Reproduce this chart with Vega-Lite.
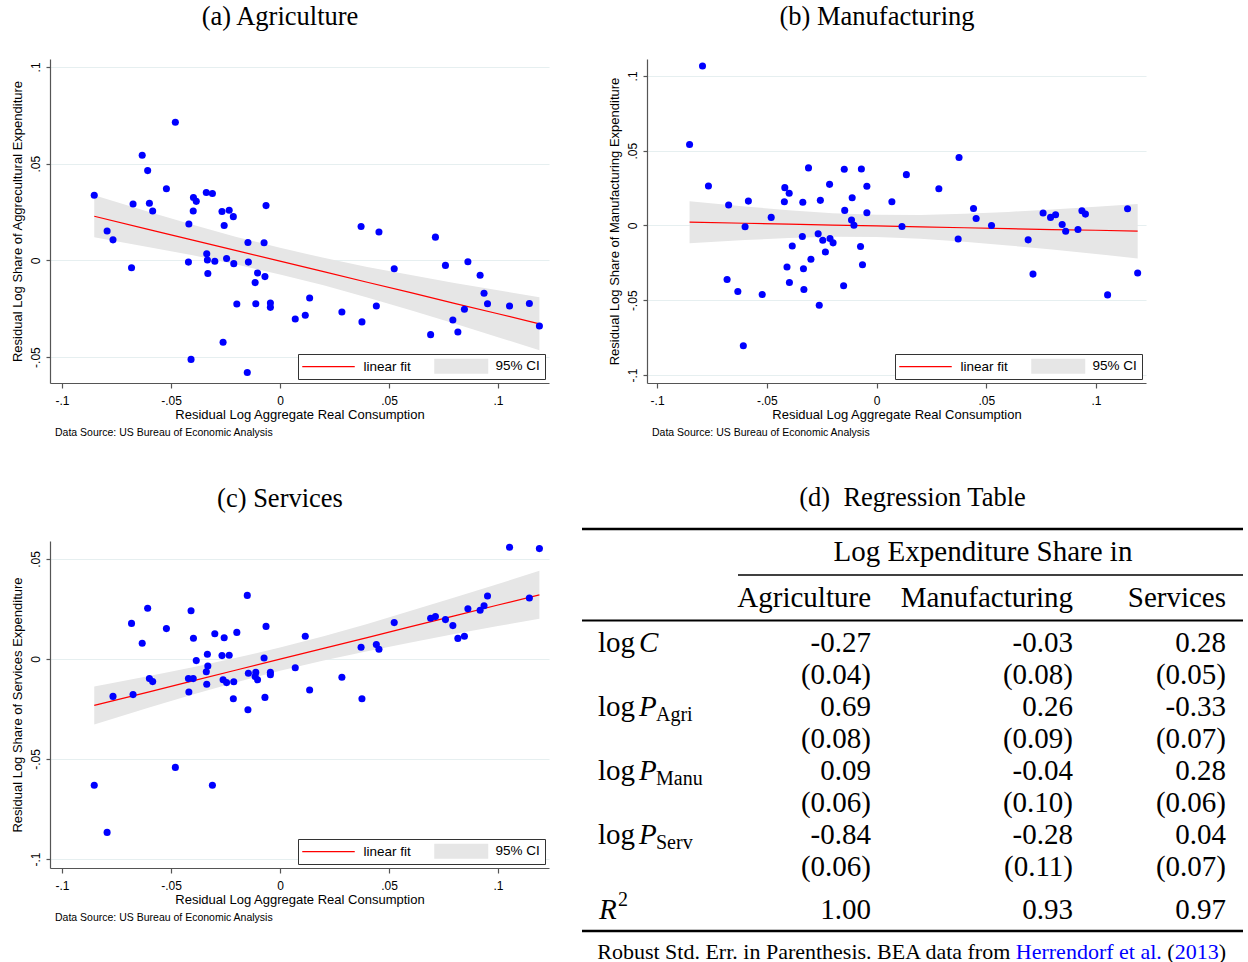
{
  "$schema": "https://vega.github.io/schema/vega-lite/v6.json",
  "background": "white",
  "padding": {"left": 11, "top": 3, "right": 0, "bottom": 0},
  "datasets": {
    "points": [
      {"x": -0.0852, "agr": 0.0337, "man": 0.0542, "ser": -0.0631},
      {"x": -0.0793, "agr": 0.0152, "man": 0.1066, "ser": -0.0867},
      {"x": -0.0766, "agr": 0.0106, "man": 0.0264, "ser": -0.0187},
      {"x": -0.0681, "agr": -0.0038, "man": -0.0361, "ser": 0.0178},
      {"x": -0.0674, "agr": 0.0291, "man": 0.0137, "ser": -0.0178},
      {"x": -0.0632, "agr": 0.0543, "man": -0.0441, "ser": 0.0079},
      {"x": -0.0607, "agr": 0.0464, "man": -0.0804, "ser": 0.0254},
      {"x": -0.0599, "agr": 0.0295, "man": -0.0009, "ser": -0.0098},
      {"x": -0.0584, "agr": 0.0255, "man": 0.0163, "ser": -0.0113},
      {"x": -0.0521, "agr": 0.0370, "man": -0.0461, "ser": 0.0152},
      {"x": -0.0480, "agr": 0.0714, "man": 0.0054, "ser": -0.0542},
      {"x": -0.0420, "agr": -0.0009, "man": 0.0159, "ser": -0.0098},
      {"x": -0.0418, "agr": 0.0188, "man": 0.0253, "ser": -0.0165},
      {"x": -0.0408, "agr": -0.0512, "man": -0.0278, "ser": 0.0241},
      {"x": -0.0398, "agr": 0.0255, "man": 0.0215, "ser": -0.0098},
      {"x": -0.0397, "agr": 0.0325, "man": -0.0381, "ser": 0.0104},
      {"x": -0.0384, "agr": 0.0305, "man": -0.0137, "ser": -0.0008},
      {"x": -0.0338, "agr": 0.0351, "man": -0.0074, "ser": -0.0064},
      {"x": -0.0336, "agr": 0.0034, "man": 0.0155, "ser": -0.0126},
      {"x": -0.0333, "agr": 0.0002, "man": -0.0289, "ser": 0.0024},
      {"x": -0.0331, "agr": -0.0068, "man": -0.0428, "ser": -0.0035},
      {"x": -0.0310, "agr": 0.0346, "man": 0.0385, "ser": -0.0631},
      {"x": -0.0299, "agr": -0.0005, "man": -0.0226, "ser": 0.0126},
      {"x": -0.0266, "agr": 0.0253, "man": -0.0056, "ser": 0.0017},
      {"x": -0.0261, "agr": -0.0423, "man": -0.0533, "ser": -0.0104},
      {"x": -0.0256, "agr": 0.0180, "man": 0.0168, "ser": 0.0106},
      {"x": -0.0245, "agr": 0.0010, "man": -0.0099, "ser": -0.0118},
      {"x": -0.0233, "agr": 0.0259, "man": -0.0177, "ser": 0.0019},
      {"x": -0.0214, "agr": 0.0226, "man": 0.0275, "ser": -0.0199},
      {"x": -0.0212, "agr": -0.0017, "man": -0.0087, "ser": -0.0114},
      {"x": -0.0198, "agr": -0.0226, "man": -0.0116, "ser": 0.0133},
      {"x": -0.0150, "agr": -0.0580, "man": -0.0403, "ser": 0.0318},
      {"x": -0.0147, "agr": 0.0092, "man": 0.0376, "ser": -0.0254},
      {"x": -0.0145, "agr": -0.0009, "man": 0.0101, "ser": -0.0071},
      {"x": -0.0114, "agr": -0.0115, "man": 0.0036, "ser": -0.0088},
      {"x": -0.0111, "agr": -0.0224, "man": 0.0186, "ser": -0.0067},
      {"x": -0.0103, "agr": -0.0065, "man": 0.0002, "ser": -0.0104},
      {"x": -0.0073, "agr": 0.0091, "man": -0.0141, "ser": 0.0005},
      {"x": -0.0069, "agr": -0.0084, "man": 0.0378, "ser": -0.0192},
      {"x": -0.0064, "agr": 0.0283, "man": -0.0262, "ser": 0.0163},
      {"x": -0.0044, "agr": -0.0221, "man": 0.0262, "ser": -0.0079},
      {"x": -0.0044, "agr": -0.0243, "man": 0.0085, "ser": -0.0066},
      {"x": 0.0070, "agr": -0.0303, "man": 0.0159, "ser": -0.0044},
      {"x": 0.0116, "agr": -0.0284, "man": -0.0007, "ser": 0.0114},
      {"x": 0.0136, "agr": -0.0195, "man": 0.0340, "ser": -0.0155},
      {"x": 0.0284, "agr": -0.0267, "man": 0.0246, "ser": -0.0091},
      {"x": 0.0372, "agr": 0.0175, "man": -0.0090, "ser": 0.0059},
      {"x": 0.0376, "agr": -0.0318, "man": 0.0455, "ser": -0.0199},
      {"x": 0.0442, "agr": -0.0236, "man": 0.0114, "ser": 0.0072},
      {"x": 0.0454, "agr": 0.0147, "man": 0.0047, "ser": 0.0049},
      {"x": 0.0524, "agr": -0.0043, "man": 0.0000, "ser": 0.0182},
      {"x": 0.0691, "agr": -0.0384, "man": -0.0096, "ser": 0.0204},
      {"x": 0.0713, "agr": 0.0120, "man": -0.0325, "ser": 0.0212},
      {"x": 0.0759, "agr": -0.0026, "man": 0.0083, "ser": 0.0197},
      {"x": 0.0793, "agr": -0.0308, "man": 0.0054, "ser": 0.0167},
      {"x": 0.0816, "agr": -0.0370, "man": 0.0072, "ser": 0.0103},
      {"x": 0.0846, "agr": -0.0253, "man": 0.0007, "ser": 0.0114},
      {"x": 0.0862, "agr": -0.0007, "man": -0.0038, "ser": 0.0251},
      {"x": 0.0918, "agr": -0.0077, "man": -0.0027, "ser": 0.0244},
      {"x": 0.0936, "agr": -0.0170, "man": 0.0099, "ser": 0.0266},
      {"x": 0.0952, "agr": -0.0224, "man": 0.0076, "ser": 0.0315},
      {"x": 0.1053, "agr": -0.0236, "man": -0.0464, "ser": 0.0559},
      {"x": 0.1144, "agr": -0.0223, "man": 0.0112, "ser": 0.0305},
      {"x": 0.1190, "agr": -0.0339, "man": -0.0318, "ser": 0.0552}
    ],
    "fits": [
      {"p": "a", "x": -0.0852, "fit": 0.0228, "lo": 0.0119, "hi": 0.0337},
      {"p": "a", "x": -0.06, "fit": 0.0159, "lo": 0.0068, "hi": 0.0250},
      {"p": "a", "x": -0.04, "fit": 0.0105, "lo": 0.0026, "hi": 0.0184},
      {"p": "a", "x": -0.02, "fit": 0.0050, "lo": -0.0021, "hi": 0.0121},
      {"p": "a", "x": 0.0, "fit": -0.0004, "lo": -0.0073, "hi": 0.0065},
      {"p": "a", "x": 0.02, "fit": -0.0058, "lo": -0.0129, "hi": 0.0013},
      {"p": "a", "x": 0.04, "fit": -0.0113, "lo": -0.0192, "hi": -0.0034},
      {"p": "a", "x": 0.06, "fit": -0.0167, "lo": -0.0258, "hi": -0.0076},
      {"p": "a", "x": 0.08, "fit": -0.0222, "lo": -0.0327, "hi": -0.0117},
      {"p": "a", "x": 0.1, "fit": -0.0276, "lo": -0.0397, "hi": -0.0155},
      {"p": "a", "x": 0.119, "fit": -0.0328, "lo": -0.0465, "hi": -0.0191},
      {"p": "b", "x": -0.0852, "fit": 0.0022, "lo": -0.0118, "hi": 0.0162},
      {"p": "b", "x": -0.06, "fit": 0.0015, "lo": -0.0097, "hi": 0.0127},
      {"p": "b", "x": -0.04, "fit": 0.0009, "lo": -0.0084, "hi": 0.0102},
      {"p": "b", "x": -0.02, "fit": 0.0003, "lo": -0.0076, "hi": 0.0082},
      {"p": "b", "x": 0.0, "fit": -0.0003, "lo": -0.0077, "hi": 0.0071},
      {"p": "b", "x": 0.02, "fit": -0.0009, "lo": -0.0088, "hi": 0.0070},
      {"p": "b", "x": 0.04, "fit": -0.0015, "lo": -0.0108, "hi": 0.0078},
      {"p": "b", "x": 0.06, "fit": -0.0021, "lo": -0.0133, "hi": 0.0091},
      {"p": "b", "x": 0.08, "fit": -0.0027, "lo": -0.0161, "hi": 0.0107},
      {"p": "b", "x": 0.1, "fit": -0.0032, "lo": -0.0190, "hi": 0.0126},
      {"p": "b", "x": 0.119, "fit": -0.0038, "lo": -0.0220, "hi": 0.0144},
      {"p": "c", "x": -0.0852, "fit": -0.0232, "lo": -0.0327, "hi": -0.0137},
      {"p": "c", "x": -0.06, "fit": -0.0164, "lo": -0.0243, "hi": -0.0085},
      {"p": "c", "x": -0.04, "fit": -0.0109, "lo": -0.0177, "hi": -0.0041},
      {"p": "c", "x": -0.02, "fit": -0.0055, "lo": -0.0116, "hi": 0.0006},
      {"p": "c", "x": 0.0, "fit": -0.0001, "lo": -0.0059, "hi": 0.0057},
      {"p": "c", "x": 0.02, "fit": 0.0053, "lo": -0.0008, "hi": 0.0114},
      {"p": "c", "x": 0.04, "fit": 0.0107, "lo": 0.0039, "hi": 0.0175},
      {"p": "c", "x": 0.06, "fit": 0.0162, "lo": 0.0083, "hi": 0.0241},
      {"p": "c", "x": 0.08, "fit": 0.0216, "lo": 0.0125, "hi": 0.0307},
      {"p": "c", "x": 0.1, "fit": 0.0270, "lo": 0.0165, "hi": 0.0375},
      {"p": "c", "x": 0.119, "fit": 0.0321, "lo": 0.0201, "hi": 0.0441}
    ],
    "cells": [
      {"row": 0, "col": 5, "text": "Log Expenditure Share in", "part": "span"},
      {"row": 1, "col": 1, "text": "Agriculture", "part": "num"},
      {"row": 1, "col": 2, "text": "Manufacturing", "part": "num"},
      {"row": 1, "col": 3, "text": "Services", "part": "num"},
      {"row": 2, "col": 1, "text": "-0.27", "part": "num"},
      {"row": 2, "col": 2, "text": "-0.03", "part": "num"},
      {"row": 2, "col": 3, "text": "0.28", "part": "num"},
      {"row": 3, "col": 1, "text": "(0.04)", "part": "num"},
      {"row": 3, "col": 2, "text": "(0.08)", "part": "num"},
      {"row": 3, "col": 3, "text": "(0.05)", "part": "num"},
      {"row": 4, "col": 1, "text": "0.69", "part": "num"},
      {"row": 4, "col": 2, "text": "0.26", "part": "num"},
      {"row": 4, "col": 3, "text": "-0.33", "part": "num"},
      {"row": 5, "col": 1, "text": "(0.08)", "part": "num"},
      {"row": 5, "col": 2, "text": "(0.09)", "part": "num"},
      {"row": 5, "col": 3, "text": "(0.07)", "part": "num"},
      {"row": 6, "col": 1, "text": "0.09", "part": "num"},
      {"row": 6, "col": 2, "text": "-0.04", "part": "num"},
      {"row": 6, "col": 3, "text": "0.28", "part": "num"},
      {"row": 7, "col": 1, "text": "(0.06)", "part": "num"},
      {"row": 7, "col": 2, "text": "(0.10)", "part": "num"},
      {"row": 7, "col": 3, "text": "(0.06)", "part": "num"},
      {"row": 8, "col": 1, "text": "-0.84", "part": "num"},
      {"row": 8, "col": 2, "text": "-0.28", "part": "num"},
      {"row": 8, "col": 3, "text": "0.04", "part": "num"},
      {"row": 9, "col": 1, "text": "(0.06)", "part": "num"},
      {"row": 9, "col": 2, "text": "(0.11)", "part": "num"},
      {"row": 9, "col": 3, "text": "(0.07)", "part": "num"},
      {"row": 10, "col": 1, "text": "1.00", "part": "num"},
      {"row": 10, "col": 2, "text": "0.93", "part": "num"},
      {"row": 10, "col": 3, "text": "0.97", "part": "num"},
      {"row": 2, "col": 0, "text": "log", "part": "log"},
      {"row": 4, "col": 0, "text": "log", "part": "log"},
      {"row": 6, "col": 0, "text": "log", "part": "log"},
      {"row": 8, "col": 0, "text": "log", "part": "log"},
      {"row": 2, "col": 0, "text": "C", "part": "sym"},
      {"row": 4, "col": 0, "text": "P", "part": "sym"},
      {"row": 6, "col": 0, "text": "P", "part": "sym"},
      {"row": 8, "col": 0, "text": "P", "part": "sym"},
      {"row": 4, "col": 0, "text": "Agri", "part": "sub"},
      {"row": 6, "col": 0, "text": "Manu", "part": "sub"},
      {"row": 8, "col": 0, "text": "Serv", "part": "sub"},
      {"row": 10, "col": 0, "text": "R", "part": "symR"},
      {"row": 10, "col": 0, "text": "2", "part": "sup"},
      {"row": 11, "col": 3, "text": "Robust Std. Err. in Parenthesis. BEA data from", "part": "f1"},
      {"row": 11, "col": 3, "text": "Herrendorf et al.", "part": "f2"},
      {"row": 11, "col": 3, "text": "(", "part": "f3"},
      {"row": 11, "col": 3, "text": "2013", "part": "f4"},
      {"row": 11, "col": 3, "text": ")", "part": "f5"}
    ],
    "rules": [
      {"row": -0.5, "c1": -1, "c2": 4, "w": "heavy"},
      {"row": 0.5, "c1": 6, "c2": 4, "w": "light"},
      {"row": 1.5, "c1": -1, "c2": 4, "w": "medium"},
      {"row": 10.5, "c1": -1, "c2": 4, "w": "heavy"}
    ]
  },
  "spacing": 46,
  "resolve": {"scale": {"color": "independent"}, "legend": {"color": "independent"}},
  "vconcat": [
    {
      "spacing": 59,
      "resolve": {"scale": {"color": "independent"}, "legend": {"color": "independent"}},
      "hconcat": [
        {
          "title": {"text": "(a) Agriculture", "anchor": "middle", "offset": 29},
          "resolve": {"scale": {"color": "independent"}, "legend": {"color": "independent"}},
          "vconcat": [
            {
              "width": 499, "height": 324,
              "title": {"text": "Data Source: US Bureau of Economic Analysis", "orient": "bottom", "anchor": "start", "frame": "group", "font": "Liberation Sans", "fontSize": 10.5, "offset": 7, "dx": 5},
              "encoding": {
                "x": {"field": "x", "type": "quantitative", "title": "Residual Log Aggregate Real Consumption", "scale": {"domain": [-0.1055, 0.1234], "nice": false, "zero": false}, "axis": {"values": [-0.1, -0.05, 0, 0.05, 0.1]}}
              },
              "layer": [
                {
                  "data": {"name": "fits"}, "transform": [{"filter": "datum.p === 'a'"}],
                  "mark": {"type": "area", "opacity": 1},
                  "encoding": {
                    "y": {"field": "lo", "type": "quantitative", "title": "Residual Log Share of Aggrecultural Expenditure", "scale": {"domain": [-0.0634, 0.1041], "nice": false, "zero": false}, "axis": {"values": [-0.05, 0, 0.05, 0.1]}},
                    "y2": {"field": "hi"},
                    "color": {"datum": "95% CI", "type": "nominal", "scale": {"domain": ["linear fit", "95% CI"], "range": ["#ff0000", "#e6e6e6"]},
                      "legend": {"encode": {"symbols": {"update": {
                        "shape": {"signal": "datum.value === 'linear fit' ? 'M-1,0H6' : 'M-1,-1H6.2V1H-1Z'"},
                        "fill": {"value": "#e6e6e6"},
                        "stroke": {"value": "#ff0000"},
                        "strokeWidth": {"signal": "datum.value === 'linear fit' ? 1.2 : 0"}}}}}}
                  }
                },
                {
                  "data": {"name": "fits"}, "transform": [{"filter": "datum.p === 'a'"}],
                  "mark": {"type": "line", "strokeWidth": 1.2},
                  "encoding": {
                    "y": {"field": "fit", "type": "quantitative", "title": "Residual Log Share of Aggrecultural Expenditure"},
                    "color": {"datum": "linear fit", "type": "nominal", "scale": {"domain": ["linear fit", "95% CI"], "range": ["#ff0000", "#e6e6e6"]}}
                  }
                },
                {
                  "data": {"name": "points"},
                  "mark": {"type": "circle", "color": "#0000ff", "size": 50, "opacity": 1},
                  "encoding": {
                    "y": {"field": "agr", "type": "quantitative", "title": "Residual Log Share of Aggrecultural Expenditure"}
                  }
                }
              ]
            }
          ]
        },
        {
          "title": {"text": "(b) Manufacturing", "anchor": "middle", "offset": 29},
          "resolve": {"scale": {"color": "independent"}, "legend": {"color": "independent"}},
          "vconcat": [
            {
              "width": 499, "height": 324,
              "title": {"text": "Data Source: US Bureau of Economic Analysis", "orient": "bottom", "anchor": "start", "frame": "group", "font": "Liberation Sans", "fontSize": 10.5, "offset": 7, "dx": 5},
              "encoding": {
                "x": {"field": "x", "type": "quantitative", "title": "Residual Log Aggregate Real Consumption", "scale": {"domain": [-0.1046, 0.1228], "nice": false, "zero": false}, "axis": {"values": [-0.1, -0.05, 0, 0.05, 0.1]}}
              },
              "layer": [
                {
                  "data": {"name": "fits"}, "transform": [{"filter": "datum.p === 'b'"}],
                  "mark": {"type": "area", "opacity": 1},
                  "encoding": {
                    "y": {"field": "lo", "type": "quantitative", "title": "Residual Log Share of Manufacturing Expenditure", "scale": {"domain": [-0.1053, 0.1113], "nice": false, "zero": false}, "axis": {"values": [-0.1, -0.05, 0, 0.05, 0.1]}},
                    "y2": {"field": "hi"},
                    "color": {"datum": "95% CI", "type": "nominal", "scale": {"domain": ["linear fit", "95% CI"], "range": ["#ff0000", "#e6e6e6"]},
                      "legend": {"encode": {"symbols": {"update": {
                        "shape": {"signal": "datum.value === 'linear fit' ? 'M-1,0H6' : 'M-1,-1H6.2V1H-1Z'"},
                        "fill": {"value": "#e6e6e6"},
                        "stroke": {"value": "#ff0000"},
                        "strokeWidth": {"signal": "datum.value === 'linear fit' ? 1.2 : 0"}}}}}}
                  }
                },
                {
                  "data": {"name": "fits"}, "transform": [{"filter": "datum.p === 'b'"}],
                  "mark": {"type": "line", "strokeWidth": 1.2},
                  "encoding": {
                    "y": {"field": "fit", "type": "quantitative", "title": "Residual Log Share of Manufacturing Expenditure"},
                    "color": {"datum": "linear fit", "type": "nominal", "scale": {"domain": ["linear fit", "95% CI"], "range": ["#ff0000", "#e6e6e6"]}}
                  }
                },
                {
                  "data": {"name": "points"},
                  "mark": {"type": "circle", "color": "#0000ff", "size": 50, "opacity": 1},
                  "encoding": {
                    "y": {"field": "man", "type": "quantitative", "title": "Residual Log Share of Manufacturing Expenditure"}
                  }
                }
              ]
            }
          ]
        }
      ]
    },
    {
      "spacing": 31,
      "resolve": {"scale": {"color": "independent"}, "legend": {"color": "independent"}},
      "hconcat": [
        {
          "title": {"text": "(c) Services", "anchor": "middle", "offset": 29},
          "resolve": {"scale": {"color": "independent"}, "legend": {"color": "independent"}},
          "vconcat": [
            {
              "width": 499, "height": 327,
              "title": {"text": "Data Source: US Bureau of Economic Analysis", "orient": "bottom", "anchor": "start", "frame": "group", "font": "Liberation Sans", "fontSize": 10.5, "offset": 7, "dx": 5},
              "encoding": {
                "x": {"field": "x", "type": "quantitative", "title": "Residual Log Aggregate Real Consumption", "scale": {"domain": [-0.1055, 0.1234], "nice": false, "zero": false}, "axis": {"values": [-0.1, -0.05, 0, 0.05, 0.1]}}
              },
              "layer": [
                {
                  "data": {"name": "fits"}, "transform": [{"filter": "datum.p === 'c'"}],
                  "mark": {"type": "area", "opacity": 1},
                  "encoding": {
                    "y": {"field": "lo", "type": "quantitative", "title": "Residual Log Share of Services Expenditure", "scale": {"domain": [-0.1045, 0.059], "nice": false, "zero": false}, "axis": {"values": [-0.1, -0.05, 0, 0.05]}},
                    "y2": {"field": "hi"},
                    "color": {"datum": "95% CI", "type": "nominal", "scale": {"domain": ["linear fit", "95% CI"], "range": ["#ff0000", "#e6e6e6"]},
                      "legend": {"encode": {"symbols": {"update": {
                        "shape": {"signal": "datum.value === 'linear fit' ? 'M-1,0H6' : 'M-1,-1H6.2V1H-1Z'"},
                        "fill": {"value": "#e6e6e6"},
                        "stroke": {"value": "#ff0000"},
                        "strokeWidth": {"signal": "datum.value === 'linear fit' ? 1.2 : 0"}}}}}}
                  }
                },
                {
                  "data": {"name": "fits"}, "transform": [{"filter": "datum.p === 'c'"}],
                  "mark": {"type": "line", "strokeWidth": 1.2},
                  "encoding": {
                    "y": {"field": "fit", "type": "quantitative", "title": "Residual Log Share of Services Expenditure"},
                    "color": {"datum": "linear fit", "type": "nominal", "scale": {"domain": ["linear fit", "95% CI"], "range": ["#ff0000", "#e6e6e6"]}}
                  }
                },
                {
                  "data": {"name": "points"},
                  "mark": {"type": "circle", "color": "#0000ff", "size": 50, "opacity": 1},
                  "encoding": {
                    "y": {"field": "ser", "type": "quantitative", "title": "Residual Log Share of Services Expenditure"}
                  }
                }
              ]
            }
          ]
        },
        {
          "width": 661, "height": 420,
          "title": {"text": "(d)\u00a0 Regression Table", "anchor": "middle", "offset": 16},
          "encoding": {
            "x": {"field": "col", "type": "quantitative", "scale": {"domain": [-1, 0, 1, 2, 3, 4, 5, 6], "range": [0, 16, 289, 491, 644, 661, 401, 156], "nice": false, "zero": false}, "axis": null},
            "y": {"field": "row", "type": "quantitative", "scale": {"domain": [0, 1, 2, 9, 10, 11], "range": [11, 57, 102, 326, 369, 411], "nice": false, "zero": false}, "axis": null}
          },
          "layer": [
            {
              "data": {"name": "rules"},
              "mark": {"type": "rule", "color": "#000"},
              "encoding": {
                "x": {"field": "c1", "type": "quantitative", "axis": null},
                "x2": {"field": "c2"},
                "strokeWidth": {"field": "w", "type": "nominal", "scale": {"domain": ["heavy", "medium", "light"], "range": [2.6, 1.6, 1.1]}, "legend": null}
              }
            },
            {
              "data": {"name": "cells"}, "transform": [{"filter": "datum.part === 'num'"}],
              "mark": {"type": "text", "align": "right", "baseline": "middle", "font": "Liberation Serif", "fontSize": 29, "color": "#000"},
              "encoding": {"text": {"field": "text"}}
            },
            {
              "data": {"name": "cells"}, "transform": [{"filter": "datum.part === 'span'"}],
              "mark": {"type": "text", "align": "center", "baseline": "middle", "font": "Liberation Serif", "fontSize": 29, "color": "#000"},
              "encoding": {"text": {"field": "text"}}
            },
            {
              "data": {"name": "cells"}, "transform": [{"filter": "datum.part === 'log'"}],
              "mark": {"type": "text", "align": "left", "baseline": "middle", "font": "Liberation Serif", "fontSize": 29, "color": "#000"},
              "encoding": {"text": {"field": "text"}}
            },
            {
              "data": {"name": "cells"}, "transform": [{"filter": "datum.part === 'sym'"}],
              "mark": {"type": "text", "align": "left", "baseline": "middle", "font": "Liberation Serif", "fontStyle": "italic", "fontSize": 29, "color": "#000", "dx": 41},
              "encoding": {"text": {"field": "text"}}
            },
            {
              "data": {"name": "cells"}, "transform": [{"filter": "datum.part === 'sub'"}],
              "mark": {"type": "text", "align": "left", "baseline": "middle", "font": "Liberation Serif", "fontSize": 20, "color": "#000", "dx": 58, "dy": 8},
              "encoding": {"text": {"field": "text"}}
            },
            {
              "data": {"name": "cells"}, "transform": [{"filter": "datum.part === 'symR'"}],
              "mark": {"type": "text", "align": "left", "baseline": "middle", "font": "Liberation Serif", "fontStyle": "italic", "fontSize": 29, "color": "#000", "dx": 1},
              "encoding": {"text": {"field": "text"}}
            },
            {
              "data": {"name": "cells"}, "transform": [{"filter": "datum.part === 'sup'"}],
              "mark": {"type": "text", "align": "left", "baseline": "middle", "font": "Liberation Serif", "fontSize": 20, "color": "#000", "dx": 20, "dy": -10},
              "encoding": {"text": {"field": "text"}}
            },
            {
              "data": {"name": "cells"}, "transform": [{"filter": "datum.part === 'f1'"}],
              "mark": {"type": "text", "align": "right", "baseline": "middle", "font": "Liberation Serif", "fontSize": 22, "color": "#000", "dx": -215.7},
              "encoding": {"text": {"field": "text"}}
            },
            {
              "data": {"name": "cells"}, "transform": [{"filter": "datum.part === 'f2'"}],
              "mark": {"type": "text", "align": "right", "baseline": "middle", "font": "Liberation Serif", "fontSize": 22, "color": "#0000ff", "dx": -64.2},
              "encoding": {"text": {"field": "text"}}
            },
            {
              "data": {"name": "cells"}, "transform": [{"filter": "datum.part === 'f3'"}],
              "mark": {"type": "text", "align": "right", "baseline": "middle", "font": "Liberation Serif", "fontSize": 22, "color": "#000", "dx": -51.3},
              "encoding": {"text": {"field": "text"}}
            },
            {
              "data": {"name": "cells"}, "transform": [{"filter": "datum.part === 'f4'"}],
              "mark": {"type": "text", "align": "right", "baseline": "middle", "font": "Liberation Serif", "fontSize": 22, "color": "#0000ff", "dx": -7.3},
              "encoding": {"text": {"field": "text"}}
            },
            {
              "data": {"name": "cells"}, "transform": [{"filter": "datum.part === 'f5'"}],
              "mark": {"type": "text", "align": "right", "baseline": "middle", "font": "Liberation Serif", "fontSize": 22, "color": "#000"},
              "encoding": {"text": {"field": "text"}}
            }
          ]
        }
      ]
    }
  ],
  "config": {
    "view": {"stroke": null},
    "title": {"font": "Liberation Serif", "fontSize": 26.5, "fontWeight": "normal", "color": "#000"},
    "axis": {
      "labelFont": "Liberation Sans", "titleFont": "Liberation Sans", "labelFontSize": 12, "titleFontSize": 13,
      "titleFontWeight": "normal", "labelColor": "#000", "titleColor": "#000",
      "domainColor": "#555", "tickColor": "#555", "domainWidth": 1.2, "tickWidth": 1.2,
      "labelFlush": false, "labelOverlap": false,
      "labelExpr": "datum.value < -0.075 ? '-.1' : datum.value < -0.025 ? '-.05' : datum.value < 0.025 ? '0' : datum.value < 0.075 ? '.05' : '.1'"
    },
    "axisX": {"grid": false, "tickSize": 5, "labelPadding": 7, "titlePadding": 2},
    "axisY": {"grid": true, "gridColor": "#e6eff0", "gridWidth": 1.2, "labelAngle": 270, "tickSize": 4, "labelPadding": 4, "titlePadding": 5},
    "legend": {
      "orient": "bottom-right", "offset": 4, "direction": "horizontal", "title": null,
      "strokeColor": "#333", "fillColor": "white", "padding": 5,
      "labelFont": "Liberation Sans", "labelFontSize": 13.5, "labelColor": "#000",
      "labelExpr": "datum.label === '95% CI' ? '95% CI\u00a0\u00a0\u00a0' : datum.label",
      "symbolSize": 225, "labelOffset": 47, "columnPadding": 23, "symbolStrokeWidth": 1.2, "symbolOpacity": 1
    }
  }
}
